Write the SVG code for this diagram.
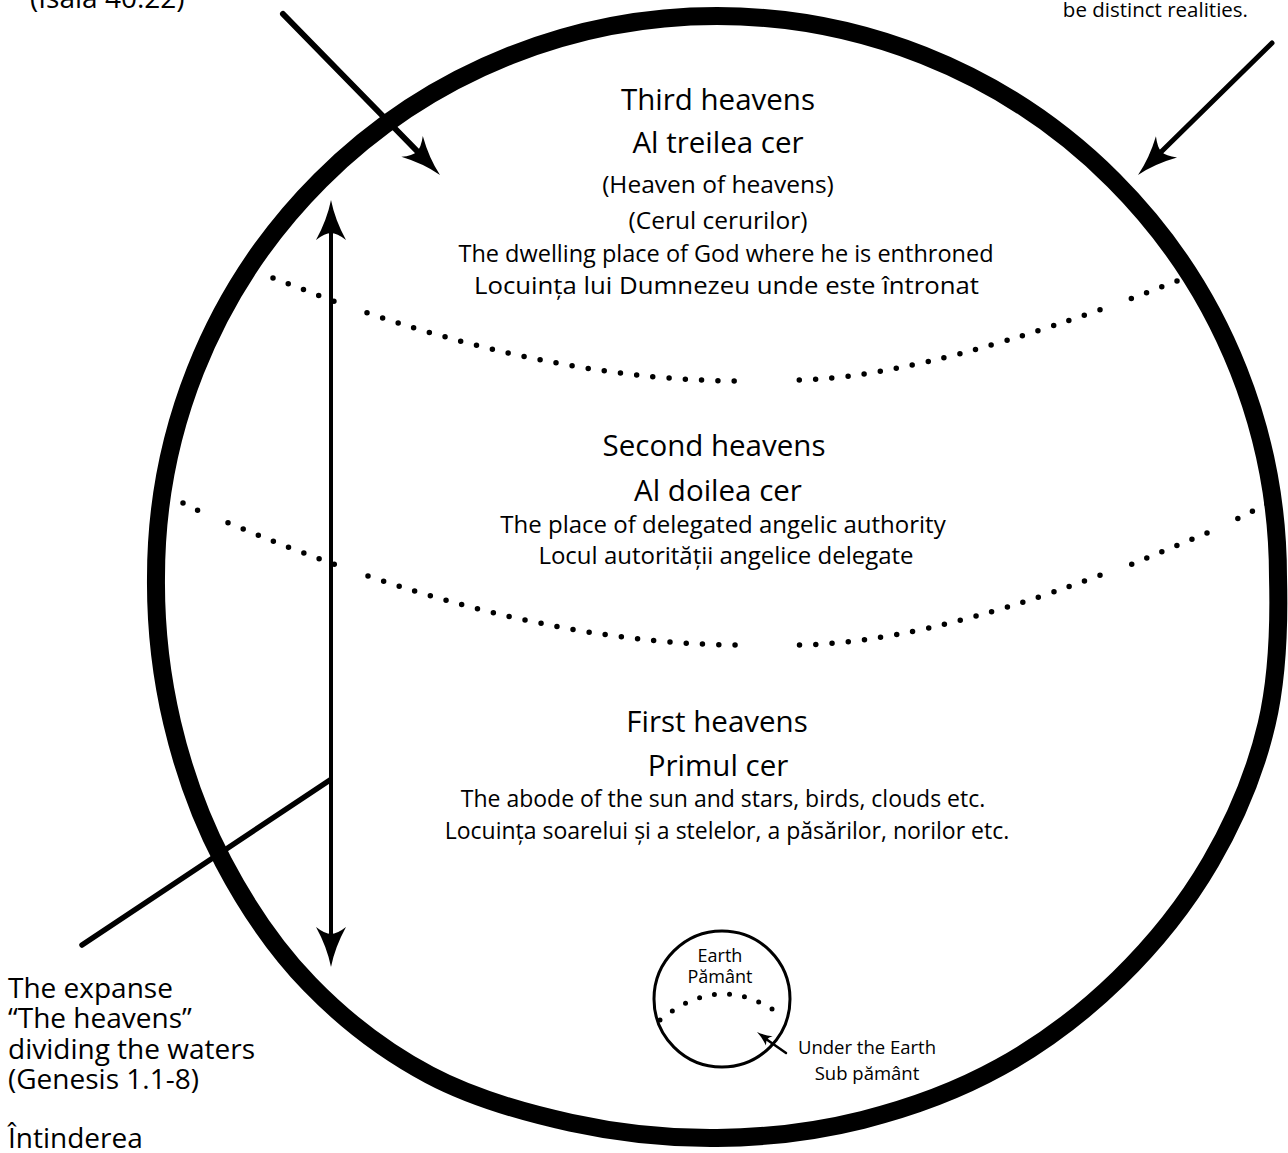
<svg xmlns="http://www.w3.org/2000/svg" xmlns:xlink="http://www.w3.org/1999/xlink" width="1288" height="1153" viewBox="0 0 1288 1153">
<style>
text{font-family:"Open Sans","Liberation Sans",sans-serif;fill:#000}
.t{font-size:29.5px;text-anchor:middle}
.s{font-size:24.5px;text-anchor:middle}
.b{font-size:23.5px;text-anchor:middle}
.lab{font-size:28px}
.sm{font-size:18.5px;text-anchor:middle}
.dots{fill:none;stroke:#000;stroke-width:5.5;stroke-linecap:round;stroke-dasharray:0 16.3}
.edots{fill:none;stroke:#000;stroke-width:5;stroke-linecap:round;stroke-dasharray:0 15.2}
.ln{fill:none;stroke:#000;stroke-linecap:round}
</style>
<defs>
<path id="head" d="M0 0 Q-20 -4 -40 -15 Q-33 -6 -33 0 Q-33 6 -40 15 Q-20 4 0 0 Z" fill="#000"/>
</defs>
<rect width="1288" height="1153" fill="#fff"/>

<g id="heavens-circle">
<path d="M156 577 A561 561 0 0 1 717 16 A561 561 0 0 1 1278 577 C1279.3 625.8 1277.8 676.8 1266.6 724.3 C1255.4 771.8 1235.3 819.6 1210.6 862 C1185.9 904.4 1153.7 944.4 1118.6 978.6 C1083.5 1012.8 1042.7 1043.6 1000 1067.2 C957.3 1090.8 909.7 1108.1 862.5 1119.9 C815.3 1131.7 765.6 1137.5 717 1138 C668.4 1138.5 618.7 1133.2 570.8 1122.7 C522.9 1112.2 473 1098.1 429.5 1075 C386 1051.9 344.1 1019.8 309.7 984.3 C275.4 948.8 246.3 905.6 223.4 862 C200.5 818.5 183.4 770.5 172.2 723 C161 675.5 155.5 625.5 156 577 Z" fill="none" stroke="#000" stroke-width="18"/>
</g>

<g id="boundaries">
<path class="dots" d="M273 278 L336 302"/>
<path class="dots" d="M367 312.8 Q569.4 381 742 381"/>
<path class="dots" d="M1177 281 L1130 299"/>
<path class="dots" d="M1100 309.7 Q902.4 380 792 380"/>
<path class="dots" d="M183 503 L198 510.5"/>
<path class="dots" d="M228 522.7 Q282.9 546 335.5 564.7"/>
<path class="dots" d="M368 576.1 Q572.7 645 742 645"/>
<path class="dots" d="M1267 504 L1237 519"/>
<path class="dots" d="M1207 533 L1130 565"/>
<path class="dots" d="M1100 575.2 Q915.1 645 792 645"/>
</g>

<g id="third-heavens">
<text class="t" x="718" y="110">Third heavens</text>
<text class="t" x="718" y="153">Al treilea cer</text>
<text class="s" x="718" y="193">(Heaven of heavens)</text>
<text class="s" x="718" y="229">(Cerul cerurilor)</text>
<text class="b" x="726" y="262">The dwelling place of God where he is enthroned</text>
<text class="b" x="726.5" y="294" style="font-size:24px" textLength="505" lengthAdjust="spacingAndGlyphs">Locuința lui Dumnezeu unde este întronat</text>
</g>

<g id="second-heavens">
<text class="t" x="714" y="456">Second heavens</text>
<text class="t" x="718" y="501">Al doilea cer</text>
<text class="b" x="723" y="533" style="font-size:24px">The place of delegated angelic authority</text>
<text class="b" x="726" y="564" style="font-size:24px">Locul autorității angelice delegate</text>
</g>

<g id="first-heavens">
<text class="t" x="717" y="732">First heavens</text>
<text class="t" x="718" y="776">Primul cer</text>
<text class="b" x="723" y="807" style="font-size:23px">The abode of the sun and stars, birds, clouds etc.</text>
<text class="b" x="727" y="839" style="font-size:23px">Locuința soarelui și a stelelor, a păsărilor, norilor etc.</text>
</g>

<g id="earth">
<circle cx="722" cy="999" r="68" fill="none" stroke="#000" stroke-width="3"/>
<path class="edots" d="M660 1020 Q721 970 782 1016"/>
<text x="720" y="962" style="font-size:18px;text-anchor:middle">Earth</text>
<text x="720" y="983" style="font-size:18px;text-anchor:middle">Pământ</text>
</g>

<g id="under-earth-label">
<text class="sm" x="867" y="1054">Under the Earth</text>
<text class="sm" x="867" y="1080">Sub pământ</text>
</g>

<g id="expanse-label">
<text class="lab" x="8" y="998">The expanse<tspan x="8" dy="30">“The heavens”</tspan><tspan x="8" dy="31">dividing the waters</tspan><tspan x="8" dy="30">(Genesis 1.1-8)</tspan><tspan x="8" dy="59">Întinderea</tspan></text>
</g>

<g id="isaiah-label">
<text class="lab" x="30" y="8">(Isaia 40:22)</text>
</g>

<g id="distinct-label">
<text x="1248" y="17" style="font-size:20.5px;text-anchor:end">be distinct realities.</text>
</g>

<g id="connectors">
<line class="ln" x1="331" y1="233" x2="331" y2="934" stroke-width="4" stroke-linecap="butt"/>
<use xlink:href="#head" transform="translate(331 200) rotate(-90)"/>
<use xlink:href="#head" transform="translate(331 967) rotate(90)"/>
<line class="ln" x1="330" y1="780" x2="82" y2="945" stroke-width="5.5"/>
<line class="ln" x1="283" y1="14" x2="417" y2="151" stroke-width="6"/>
<use xlink:href="#head" transform="translate(440 175) rotate(45.7)"/>
<line class="ln" x1="1272" y1="43" x2="1161" y2="152" stroke-width="5"/>
<use xlink:href="#head" transform="translate(1138 175) rotate(135.4)"/>
<line class="ln" x1="786" y1="1053" x2="766" y2="1039" stroke-width="2.5"/>
<use xlink:href="#head" transform="translate(757 1032) rotate(215.9) scale(0.38)"/>
</g>
</svg>
